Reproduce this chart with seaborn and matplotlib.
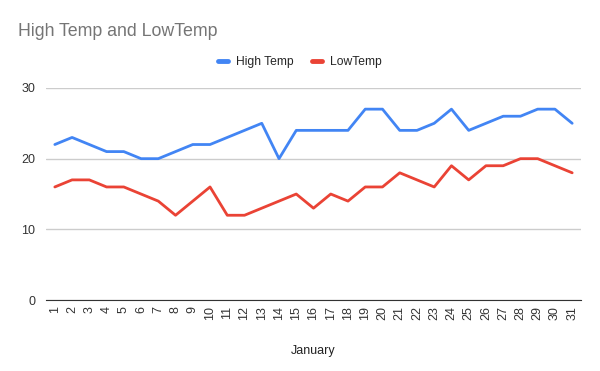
import pandas as pd
import matplotlib
matplotlib.use("Agg")
import matplotlib.pyplot as plt
import seaborn as sns

# =========================
# DATA
# =========================

days = list(range(1, 32))

high_temp = [22, 23, 22, 21, 21, 20, 20, 21, 22, 22, 23, 24, 25, 20, 24, 24,
             24, 24, 27, 27, 24, 24, 25, 27, 24, 25, 26, 26, 27, 27, 25]

low_temp = [16, 17, 17, 16, 16, 15, 14, 12, 14, 16, 12, 12, 13, 14, 15, 13,
            15, 14, 16, 16, 18, 17, 16, 19, 17, 19, 19, 20, 20, 19, 18]

series_names = ["High Temp", "LowTemp"]
colors = ["#4285F4", "#EA4335"]

df = pd.DataFrame({"day": days + days,
                   "temp": high_temp + low_temp,
                   "series": [series_names[0]] * 31 + [series_names[1]] * 31})

# =========================
# PLOT
# =========================

sns.set_style("white")
plt.rcParams["font.family"] = ["Liberation Sans", "DejaVu Sans"]

fig = plt.figure(figsize=(6, 3.71), dpi=100)
ax = fig.add_axes([0.077, 0.191, 0.891, 0.572])

sns.lineplot(data=df, x="day", y="temp", hue="series",
             palette=colors, linewidth=2, ax=ax, legend=False)

ax.set_xlim(0.5, 31.5)
ax.set_ylim(0, 30)
ax.set_yticks([0, 10, 20, 30])
ax.set_xticks(days)
ax.set_xticklabels([str(d) for d in days], rotation=90, fontsize=9, color="#333333")
ax.tick_params(axis="y", labelsize=9, labelcolor="#333333", length=0, pad=8)
ax.tick_params(axis="x", length=0, pad=4)
ax.grid(axis="y", color="#cccccc", linewidth=1)
for s in ["top", "right", "left"]:
    ax.spines[s].set_visible(False)
ax.spines["bottom"].set_color("#333333")
ax.set_axisbelow(True)

ax.set_xlabel("January", fontsize=9, color="#222222", labelpad=18)
ax.set_ylabel("")

fig.text(0.03, 0.915, "High Temp and LowTemp", fontsize=12.8, color="#757575",
         va="center", ha="left")

# legend
handles = [plt.Line2D([0], [0], color=c, linewidth=3.5) for c in colors]
fig.legend(handles, series_names, loc="center", bbox_to_anchor=(0.5, 0.833),
           ncol=2, frameon=False, fontsize=8.7, handlelength=0.8,
           columnspacing=1.5, handletextpad=0.7)

plt.savefig("out.png", dpi=100)
